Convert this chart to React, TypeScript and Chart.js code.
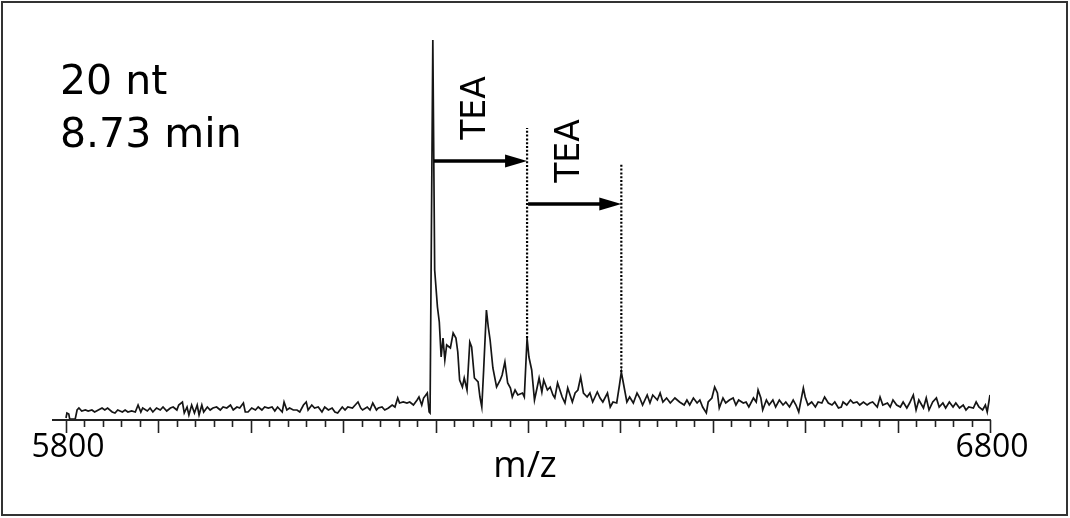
import React, { useEffect, useRef } from "react";
import { Chart, registerables } from "chart.js";

Chart.register(...registerables);

// m/z positions of the sampled spectrum points
const MZ = [
  5800, 5801, 5803, 5804, 5810, 5812, 5814, 5817, 5821, 5824,
  5828, 5831, 5835, 5839, 5842, 5845, 5850, 5853, 5856, 5861,
  5864, 5867, 5871, 5875, 5878, 5881, 5883, 5888, 5891, 5894,
  5898, 5902, 5905, 5909, 5913, 5916, 5920, 5922, 5926, 5928,
  5931, 5933, 5936, 5939, 5942, 5944, 5947, 5949, 5953, 5956,
  5959, 5963, 5967, 5970, 5974, 5978, 5981, 5985, 5988, 5992,
  5994, 5997, 6001, 6005, 6008, 6012, 6015, 6019, 6023, 6026,
  6029, 6034, 6036, 6039, 6042, 6046, 6050, 6053, 6057, 6060,
  6062, 6066, 6069, 6073, 6077, 6080, 6084, 6088, 6091, 6094,
  6099, 6102, 6105, 6110, 6113, 6116, 6119, 6121, 6126, 6129,
  6132, 6136, 6138, 6142, 6145, 6149, 6153, 6156, 6159, 6161,
  6165, 6169, 6172, 6176, 6180, 6182, 6185, 6187, 6191, 6193,
  6194, 6197, 6199, 6202, 6204, 6206, 6208, 6210, 6212, 6216,
  6219, 6222, 6224, 6226, 6229, 6231, 6234, 6237, 6239, 6242,
  6246, 6248, 6250, 6252, 6255, 6257, 6259, 6262, 6266, 6270,
  6272, 6275, 6278, 6281, 6283, 6286, 6289, 6294, 6296, 6299,
  6301, 6304, 6307, 6310, 6312, 6315, 6317, 6321, 6324, 6327,
  6329, 6332, 6337, 6340, 6343, 6348, 6351, 6354, 6357, 6360,
  6364, 6367, 6370, 6375, 6378, 6381, 6386, 6389, 6392, 6396,
  6399, 6401, 6404, 6407, 6410, 6414, 6418, 6421, 6424, 6429,
  6432, 6435, 6440, 6443, 6446, 6450, 6454, 6459, 6464, 6469,
  6472, 6475, 6479, 6483, 6486, 6489, 6493, 6495, 6499, 6502,
  6505, 6507, 6511, 6514, 6518, 6522, 6525, 6528, 6533, 6536,
  6539, 6544, 6547, 6549, 6552, 6554, 6558, 6561, 6565, 6568,
  6572, 6576, 6579, 6583, 6587, 6590, 6593, 6598, 6600, 6603,
  6607, 6611, 6614, 6618, 6621, 6625, 6629, 6632, 6636, 6639,
  6641, 6645, 6649, 6652, 6656, 6659, 6663, 6667, 6670, 6673,
  6678, 6681, 6684, 6689, 6692, 6695, 6699, 6703, 6706, 6710,
  6713, 6717, 6720, 6723, 6728, 6731, 6734, 6738, 6742, 6745,
  6749, 6752, 6756, 6760, 6763, 6767, 6771, 6774, 6777, 6782,
  6785, 6788, 6792, 6795, 6797, 6800,
];

// relative intensity at each m/z (main peak = 380)
const INTENSITY = [
  2, 7, 6, 1, 1, 10, 12, 9, 10, 9,
  10, 8, 10, 12, 10, 12, 8, 7, 10, 8,
  10, 8, 9, 8, 15, 8, 12, 9, 12, 8,
  12, 10, 13, 9, 12, 13, 10, 15, 18, 7,
  13, 5, 15, 7, 15, 5, 15, 8, 13, 10,
  12, 13, 10, 13, 12, 15, 10, 13, 12, 17,
  8, 8, 12, 10, 13, 10, 13, 12, 13, 9,
  13, 8, 18, 10, 12, 10, 10, 8, 15, 18,
  10, 15, 12, 13, 8, 13, 10, 12, 8, 7,
  13, 10, 13, 12, 15, 18, 12, 10, 13, 10,
  17, 10, 12, 13, 10, 12, 15, 13, 22, 17,
  18, 17, 18, 15, 20, 23, 15, 22, 27, 8,
  7, 380, 150, 113, 98, 63, 82, 60, 75, 72,
  87, 82, 68, 40, 33, 42, 30, 78, 73, 42,
  38, 23, 13, 50, 110, 93, 80, 52, 33, 40,
  45, 58, 37, 32, 23, 30, 25, 27, 23, 82,
  63, 50, 20, 33, 42, 28, 40, 30, 33, 25,
  22, 37, 23, 17, 32, 18, 27, 30, 43, 27,
  23, 27, 18, 28, 22, 18, 27, 13, 18, 17,
  35, 48, 33, 18, 23, 17, 27, 22, 15, 25,
  17, 25, 20, 27, 18, 22, 17, 22, 18, 15,
  20, 15, 22, 17, 20, 13, 7, 18, 22, 33,
  27, 12, 22, 17, 20, 22, 15, 20, 17, 18,
  13, 22, 18, 30, 22, 10, 20, 15, 20, 13,
  20, 15, 18, 13, 20, 15, 8, 32, 23, 15,
  18, 13, 18, 17, 23, 17, 15, 18, 12, 13,
  18, 15, 20, 17, 18, 15, 18, 15, 17, 18,
  13, 23, 15, 17, 13, 20, 15, 13, 18, 12,
  17, 25, 10, 20, 12, 22, 10, 18, 22, 13,
  17, 12, 18, 13, 17, 12, 15, 10, 13, 12,
  18, 13, 10, 15, 8, 25,
];

// axis
const X_MIN = 5784.85;
const X_MAX = 6800;
const Y_MAX = 380;
const MINOR_STEP = 20;
const MAJOR_STEP = 100;
const TICK_LABELS = [5800, 6800];
const X_TITLE = "m/z";

// annotations
const INFO_LINES = ["20 nt", "8.73 min"];
const TEA_PEAKS = [6197, 6299, 6401];
const TEA_ARROW_LEVELS = [259, 216];
const TEA_DOTTED_BOTTOM = [82, 48];
const TEA_DOTTED_TOP = [292, 257];
const TEA_LABEL = "TEA";

const decorPlugin = {
  id: "decor",
  afterDatasetsDraw(chart: any) {
    const { ctx, chartArea } = chart;
    const x = chart.scales.x;
    const y = chart.scales.y;
    const ink = "#000";
    ctx.save();

    // x axis line
    const y0 = y.getPixelForValue(0);
    ctx.strokeStyle = "#222";
    ctx.lineWidth = 1.8;
    ctx.beginPath();
    ctx.moveTo(chartArea.left, y0);
    ctx.lineTo(x.getPixelForValue(X_MAX) + 0.9, y0);
    ctx.stroke();

    // ticks
    ctx.lineWidth = 1.6;
    for (let v = 5800; v <= X_MAX; v += MINOR_STEP) {
      const px = Math.round(x.getPixelForValue(v)) + 0.5;
      const major = v % MAJOR_STEP === 0;
      ctx.beginPath();
      ctx.moveTo(px, y0);
      ctx.lineTo(px, y0 + (major ? 13 : 7));
      ctx.stroke();
    }

    // tick labels
    ctx.fillStyle = ink;
    ctx.font = '32px "Open Sans"';
    ctx.textAlign = "center";
    ctx.textBaseline = "alphabetic";
    for (const v of TICK_LABELS) {
      ctx.fillText(String(v), x.getPixelForValue(v) + 2, 457);
    }
    // axis title
    ctx.font = '36px "Open Sans"';
    ctx.fillText(X_TITLE, (x.getPixelForValue(5800) + x.getPixelForValue(X_MAX)) / 2 - 3, 477);

    // info text
    ctx.font = '41px "DejaVu Sans"';
    ctx.textAlign = "left";
    ctx.fillText(INFO_LINES[0], 60, 94);
    ctx.fillText(INFO_LINES[1], 60, 147);

    // TEA dotted lines
    ctx.strokeStyle = ink;
    ctx.lineWidth = 2.2;
    ctx.setLineDash([2, 1.8]);
    for (let i = 0; i < TEA_DOTTED_TOP.length; i++) {
      const px = x.getPixelForValue(TEA_PEAKS[i + 1]);
      ctx.beginPath();
      ctx.moveTo(px, y.getPixelForValue(TEA_DOTTED_BOTTOM[i]));
      ctx.lineTo(px, y.getPixelForValue(TEA_DOTTED_TOP[i]));
      ctx.stroke();
    }
    ctx.setLineDash([]);

    // arrows + labels
    for (let i = 0; i < TEA_ARROW_LEVELS.length; i++) {
      const x1 = x.getPixelForValue(TEA_PEAKS[i]) + 1;
      const x2 = x.getPixelForValue(TEA_PEAKS[i + 1]);
      const ay = y.getPixelForValue(TEA_ARROW_LEVELS[i]);
      const head = 22;
      ctx.lineWidth = 3.4;
      ctx.beginPath();
      ctx.moveTo(x1, ay);
      ctx.lineTo(x2 - head + 2, ay);
      ctx.stroke();
      ctx.beginPath();
      ctx.moveTo(x2, ay);
      ctx.lineTo(x2 - head, ay - 6.5);
      ctx.lineTo(x2 - head, ay + 6.5);
      ctx.closePath();
      ctx.fill();

      ctx.save();
      ctx.translate((x1 + x2) / 2 - 4, ay - 53);
      ctx.rotate(-Math.PI / 2);
      ctx.font = '33px "DejaVu Sans"';
      ctx.textAlign = "center";
      ctx.textBaseline = "middle";
      ctx.fillText(TEA_LABEL, 0, 0);
      ctx.restore();
    }
    ctx.restore();
  },
};

export default function App() {
  const ref = useRef<HTMLCanvasElement | null>(null);
  useEffect(() => {
    document.body.style.margin = "0";
    const canvas = ref.current!;
    const chart = new Chart(canvas, {
      type: "line",
      data: {
        datasets: [
          {
            data: MZ.map((m, i) => ({ x: m, y: INTENSITY[i] })),
            borderColor: "#151515",
            borderWidth: 1.7,
            pointRadius: 0,
            tension: 0,
            fill: false,
          },
        ],
      },
      options: {
        responsive: false,
        animation: false,
        parsing: false,
        layout: { padding: { left: 52, right: 80, top: 40, bottom: 98 } },
        plugins: { legend: { display: false }, tooltip: { enabled: false } },
        scales: {
          x: { type: "linear", min: X_MIN, max: X_MAX, display: false },
          y: { type: "linear", min: 0, max: Y_MAX, display: false },
        },
      },
      plugins: [decorPlugin],
    });
    return () => chart.destroy();
  }, []);
  return (
    <div style={{ position: "absolute", left: 0, top: 0, width: 1070, height: 518, background: "#fff" }}>
      <canvas ref={ref} width={1070} height={518} style={{ position: "absolute", left: 0, top: 0 }} />
      <div
        style={{
          position: "absolute",
          left: 1,
          top: 1,
          width: 1067,
          height: 515,
          border: "2px solid #333",
          boxSizing: "border-box",
          pointerEvents: "none",
        }}
      />
    </div>
  );
}
